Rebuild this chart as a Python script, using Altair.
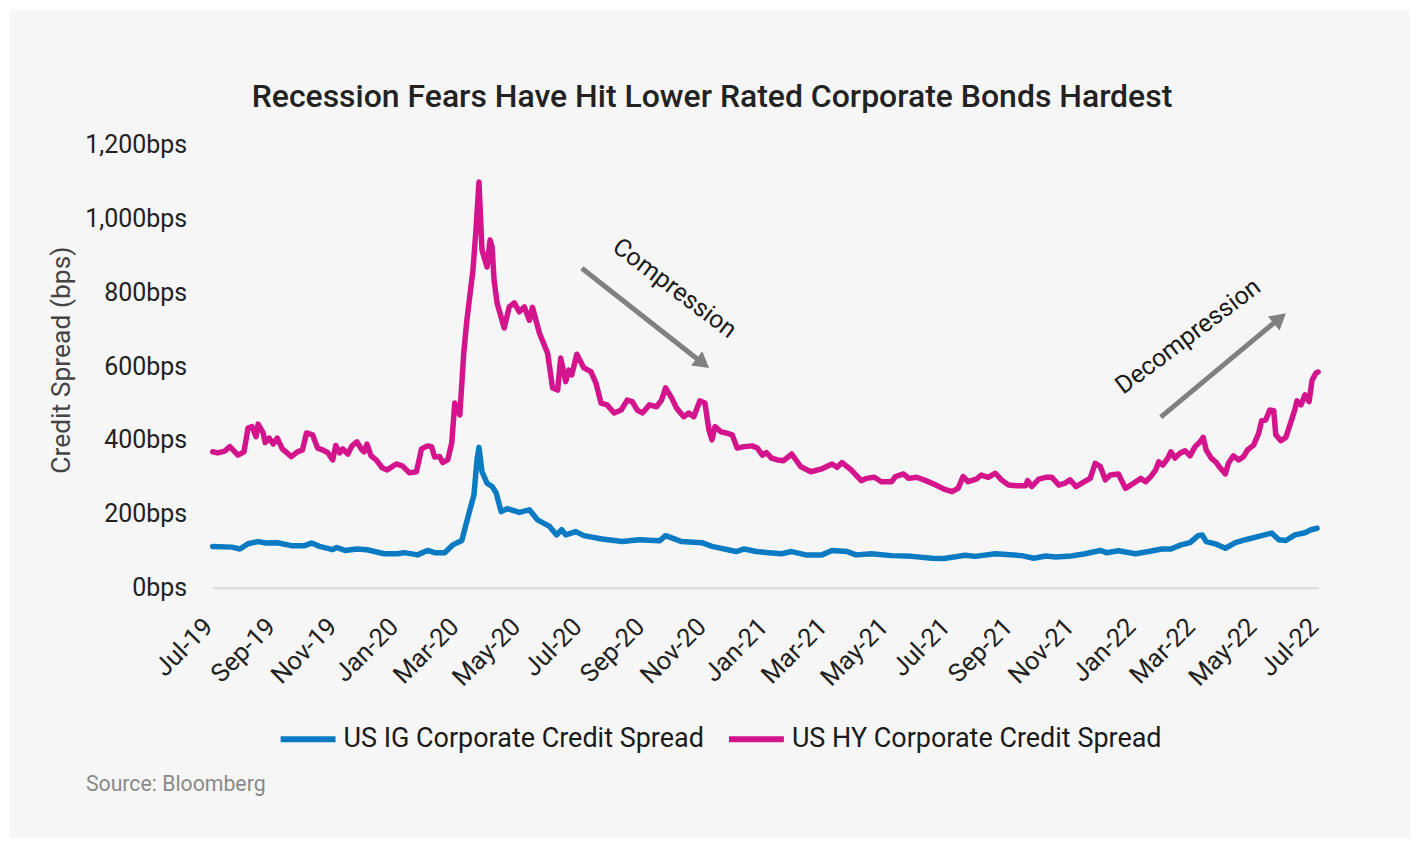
import altair as alt
import pandas as pd

# ---------------- data ----------------
hy_dates = [
    "2019-07-01", "2019-07-06", "2019-07-13", "2019-07-18", "2019-07-26", "2019-08-01", "2019-08-05",
    "2019-08-09", "2019-08-13", "2019-08-15", "2019-08-20", "2019-08-22", "2019-08-26", "2019-08-30",
    "2019-09-03", "2019-09-08", "2019-09-17", "2019-09-23", "2019-09-28", "2019-10-02", "2019-10-08",
    "2019-10-13", "2019-10-18", "2019-10-23", "2019-10-28", "2019-10-31", "2019-11-04", "2019-11-07",
    "2019-11-12", "2019-11-16", "2019-11-21", "2019-11-26", "2019-11-28", "2019-12-01", "2019-12-05",
    "2019-12-10", "2019-12-16", "2019-12-21", "2019-12-30", "2020-01-05", "2020-01-12", "2020-01-19",
    "2020-01-24", "2020-01-30", "2020-02-03", "2020-02-06", "2020-02-11", "2020-02-14", "2020-02-19",
    "2020-02-23", "2020-02-26", "2020-03-02", "2020-03-06", "2020-03-09", "2020-03-13", "2020-03-15",
    "2020-03-18", "2020-03-21", "2020-03-24", "2020-03-29", "2020-04-01", "2020-04-03", "2020-04-05",
    "2020-04-08", "2020-04-15", "2020-04-20", "2020-04-25", "2020-04-30", "2020-05-05", "2020-05-10",
    "2020-05-13", "2020-05-20", "2020-05-28", "2020-06-02", "2020-06-07", "2020-06-10", "2020-06-15",
    "2020-06-18", "2020-06-21", "2020-06-26", "2020-07-03", "2020-07-10", "2020-07-15", "2020-07-20",
    "2020-07-26", "2020-08-02", "2020-08-09", "2020-08-15", "2020-08-20", "2020-08-25", "2020-08-30",
    "2020-09-06", "2020-09-13", "2020-09-18", "2020-09-22", "2020-09-28", "2020-10-03", "2020-10-10",
    "2020-10-15", "2020-10-20", "2020-10-26", "2020-10-31", "2020-11-04", "2020-11-07", "2020-11-10",
    "2020-11-16", "2020-11-21", "2020-11-27", "2020-12-02", "2020-12-09", "2020-12-17", "2020-12-22",
    "2020-12-27", "2020-12-31", "2021-01-05", "2021-01-11", "2021-01-17", "2021-01-25", "2021-02-03",
    "2021-02-13", "2021-02-23", "2021-03-06", "2021-03-11", "2021-03-16", "2021-03-25", "2021-04-04",
    "2021-04-09", "2021-04-17", "2021-04-24", "2021-05-04", "2021-05-08", "2021-05-16", "2021-05-21",
    "2021-05-29", "2021-06-07", "2021-06-17", "2021-06-25", "2021-07-03", "2021-07-09", "2021-07-14",
    "2021-07-19", "2021-07-27", "2021-08-01", "2021-08-08", "2021-08-15", "2021-08-21", "2021-08-28",
    "2021-09-05", "2021-09-14", "2021-09-16", "2021-09-20", "2021-09-27", "2021-10-04", "2021-10-10",
    "2021-10-17", "2021-10-23", "2021-10-28", "2021-11-03", "2021-11-10", "2021-11-17", "2021-11-22",
    "2021-11-27", "2021-12-02", "2021-12-07", "2021-12-15", "2021-12-22", "2021-12-30", "2022-01-06",
    "2022-01-11", "2022-01-16", "2022-01-21", "2022-01-24", "2022-01-28", "2022-02-02", "2022-02-05",
    "2022-02-09", "2022-02-14", "2022-02-19", "2022-02-24", "2022-03-01", "2022-03-06", "2022-03-09",
    "2022-03-12", "2022-03-17", "2022-03-22", "2022-03-26", "2022-03-31", "2022-04-03", "2022-04-08",
    "2022-04-13", "2022-04-18", "2022-04-22", "2022-04-28", "2022-05-03", "2022-05-06", "2022-05-10",
    "2022-05-14", "2022-05-18", "2022-05-20", "2022-05-25", "2022-05-30", "2022-06-04", "2022-06-08",
    "2022-06-10", "2022-06-14", "2022-06-18", "2022-06-22", "2022-06-25", "2022-06-29", "2022-07-01",
]
hy_values = [
    368, 365, 370, 382, 359, 368, 432,
    436, 409, 443, 419, 393, 405, 389,
    405, 376, 355, 368, 373, 419, 414,
    378, 373, 366, 346, 385, 365, 376,
    362, 384, 395, 373, 368, 389, 357,
    346, 325, 319, 335, 330, 311, 314,
    376, 384, 382, 354, 355, 339, 346,
    392, 500, 468, 639, 724, 814, 859,
    968, 1098, 914, 868, 941, 922, 832,
    770, 703, 760, 771, 747, 760, 724,
    759, 689, 635, 541, 535, 622, 558,
    589, 576, 632, 595, 585, 554, 500,
    495, 473, 481, 508, 504, 481, 473,
    495, 490, 508, 541, 514, 486, 463,
    473, 463, 506, 500, 427, 400, 436,
    422, 419, 414, 378, 382, 384, 378,
    359, 366, 351, 346, 344, 362, 328,
    314, 321, 335, 326, 339, 319, 290,
    296, 299, 287, 287, 301, 308, 296,
    299, 290, 278, 267, 260, 269, 301,
    287, 294, 305, 299, 310, 292, 278,
    276, 276, 290, 274, 294, 299, 299,
    278, 283, 292, 274, 285, 296, 337,
    328, 292, 305, 308, 269, 283, 296,
    287, 301, 319, 341, 332, 351, 368,
    351, 364, 371, 357, 382, 395, 407,
    373, 351, 339, 324, 308, 337, 357,
    346, 355, 373, 386, 418, 452, 454,
    481, 479, 414, 398, 407, 449, 483,
    506, 495, 522, 504, 562, 582, 584,
]

ig_dates = [
    "2019-07-01", "2019-07-20", "2019-07-28", "2019-08-05", "2019-08-15", "2019-08-23", "2019-09-03",
    "2019-09-17", "2019-09-30", "2019-10-07", "2019-10-15", "2019-10-28", "2019-11-01", "2019-11-09",
    "2019-11-21", "2019-12-01", "2019-12-18", "2019-12-31", "2020-01-07", "2020-01-20", "2020-01-30",
    "2020-02-06", "2020-02-16", "2020-02-24", "2020-03-04", "2020-03-08", "2020-03-12", "2020-03-16",
    "2020-03-19", "2020-03-21", "2020-03-24", "2020-03-29", "2020-04-03", "2020-04-07", "2020-04-12",
    "2020-04-18", "2020-04-30", "2020-05-10", "2020-05-18", "2020-05-30", "2020-06-06", "2020-06-11",
    "2020-06-15", "2020-06-25", "2020-07-03", "2020-07-21", "2020-08-10", "2020-08-27", "2020-09-16",
    "2020-09-22", "2020-10-08", "2020-10-28", "2020-11-07", "2020-12-01", "2020-12-09", "2020-12-21",
    "2021-01-02", "2021-01-15", "2021-01-25", "2021-02-08", "2021-02-24", "2021-03-06", "2021-03-21",
    "2021-03-30", "2021-04-14", "2021-05-04", "2021-05-24", "2021-06-13", "2021-06-25", "2021-07-16",
    "2021-07-26", "2021-08-15", "2021-09-10", "2021-09-22", "2021-10-04", "2021-10-14", "2021-10-29",
    "2021-11-12", "2021-11-27", "2021-12-03", "2021-12-15", "2022-01-01", "2022-01-14", "2022-01-27",
    "2022-02-05", "2022-02-15", "2022-02-24", "2022-03-04", "2022-03-08", "2022-03-12", "2022-03-21",
    "2022-03-31", "2022-04-10", "2022-04-20", "2022-05-03", "2022-05-16", "2022-05-23", "2022-05-30",
    "2022-06-08", "2022-06-18", "2022-06-24", "2022-06-30",
]
ig_values = [
    112, 110, 105, 119, 125, 121, 122,
    114, 114, 121, 112, 103, 109, 101,
    105, 103, 92, 92, 95, 89, 101,
    95, 95, 116, 128, 170, 211, 251,
    346, 380, 314, 283, 274, 257, 206,
    214, 204, 211, 184, 166, 143, 157,
    143, 152, 141, 132, 125, 130, 127,
    141, 125, 122, 112, 98, 105, 98,
    95, 92, 98, 89, 89, 101, 98,
    89, 92, 87, 85, 80, 79, 88,
    85, 92, 87, 80, 86, 83, 86,
    92, 101, 95, 100, 92, 98, 105,
    105, 116, 122, 141, 143, 125, 119,
    107, 122, 130, 139, 148, 130, 128,
    143, 149, 157, 161,
]

series_names = ["US IG Corporate Credit Spread", "US HY Corporate Credit Spread"]
series_colors = ["#0a7bc2", "#d4148c"]

x_tick_dates = [
    "2019-07-01", "2019-09-01", "2019-11-01", "2020-01-01", "2020-03-01", "2020-05-01", "2020-07-01",
    "2020-09-01", "2020-11-01", "2021-01-01", "2021-03-01", "2021-05-01", "2021-07-01", "2021-09-01",
    "2021-11-01", "2022-01-01", "2022-03-01", "2022-05-01", "2022-07-01",
]
y_ticks = [0, 200, 400, 600, 800, 1000, 1200]

# annotation arrows / labels (in data space)
arrow_start_dates = ["2020-07-01", "2022-01-26"]
arrow_start_values = [865, 462]
arrow_end_dates = ["2020-10-25", "2022-05-21"]
arrow_end_values = [616, 723]
head_dates = ["2020-10-29", "2022-05-24"]
head_values = [608, 729]
head_angles = [38, 320]
ann_texts = ["Compression", "Decompression"]
ann_dates = ["2020-10-01", "2022-02-22"]
ann_values = [811, 681]
ann_angles = [37, 323]

title_text = "Recession Fears Have Hit Lower Rated Corporate Bonds Hardest"
y_title_text = "Credit Spread (bps)"
source_text = "Source: Bloomberg"

# ---------------- build ----------------
FONT = "Roboto"
PLOT_W, PLOT_H = 1107, 444


def dt(s):
    y, m, d = (int(v) for v in s.split("-"))
    return alt.DateTime(year=y, month=m, date=d, utc=True)


df = pd.concat([
    pd.DataFrame({"date": ig_dates, "value": ig_values, "series": series_names[0]}),
    pd.DataFrame({"date": hy_dates, "value": hy_values, "series": series_names[1]}),
], ignore_index=True)

x_scale = alt.Scale(type="utc", domain=[dt(x_tick_dates[0]), dt(x_tick_dates[-1])])
y_scale = alt.Scale(domain=[0, 1200], nice=False)

x_axis = alt.Axis(values=[dt(s) for s in x_tick_dates], format="%b-%y", labelAngle=-45,
                  labelAlign="right", labelBaseline="top", labelOffset=-13,
                  ticks=False, tickSize=0, grid=False, labelPadding=26, zindex=1,
                  domainColor="#d9d9d9", domainWidth=2, labelFontSize=25.5,
                  labelColor="#222222", labelFont=FONT, labelOverlap=False, title=None)
y_axis = alt.Axis(values=y_ticks, labelExpr="format(datum.value, ',') + 'bps'",
                  ticks=False, tickSize=0, grid=False, domain=False, labelPadding=26, zindex=1,
                  labelFontSize=25, labelColor="#222222", labelFont=FONT, title=None)

bg = alt.Chart(pd.DataFrame({"k": [0]})).mark_rect(color="#f6f6f6").encode(
    x=alt.value(-203), x2=alt.value(1199), y=alt.value(-134), y2=alt.value(700)
)

lines = alt.Chart(df).mark_line(strokeWidth=5.5, strokeJoin="round", strokeCap="round").encode(
    x=alt.X("date:T", scale=x_scale, axis=x_axis),
    y=alt.Y("value:Q", scale=y_scale, axis=y_axis),
    color=alt.Color("series:N", scale=alt.Scale(domain=series_names, range=series_colors),
                    sort=series_names,
                    legend=alt.Legend(title=None, orient="none", direction="horizontal",
                                      legendX=65, legendY=565, symbolType="stroke",
                                      symbolStrokeWidth=6, symbolSize=3025, labelFontSize=27,
                                      labelFont=FONT, labelColor="#1a1a1a", labelOffset=5,
                                      columnPadding=13, labelLimit=600, padding=0)),
    order=alt.Order("date:T"),
)

arrows_df = pd.DataFrame({"d1": arrow_start_dates, "v1": arrow_start_values,
                          "d2": arrow_end_dates, "v2": arrow_end_values})
arrows = alt.Chart(arrows_df).mark_rule(color="#808080", strokeWidth=5).encode(
    x=alt.X("d1:T", scale=x_scale, axis=x_axis), y=alt.Y("v1:Q", scale=y_scale, axis=y_axis),
    x2="d2:T", y2="v2:Q",
)

heads_df = pd.DataFrame({"d": head_dates, "v": head_values, "a": head_angles})
heads = alt.Chart(heads_df).mark_point(shape="triangle-right", filled=True, size=330,
                                       color="#808080", opacity=1).encode(
    x=alt.X("d:T", scale=x_scale, axis=x_axis), y=alt.Y("v:Q", scale=y_scale, axis=y_axis),
    angle=alt.Angle("a:Q", scale=None),
)

ann_df = pd.DataFrame({"t": ann_texts, "d": ann_dates, "v": ann_values, "a": ann_angles})
ann = alt.Chart(ann_df).mark_text(font=FONT, fontSize=25, color="#1a1a1a", align="center",
                                  baseline="middle").encode(
    x=alt.X("d:T", scale=x_scale, axis=x_axis), y=alt.Y("v:Q", scale=y_scale, axis=y_axis),
    text="t:N", angle=alt.Angle("a:Q", scale=None),
)

title = alt.Chart(pd.DataFrame({"t": [title_text]})).mark_text(
    font=FONT, fontSize=32, fontWeight=500, color="#222222", align="center", baseline="middle"
).encode(text="t:N", x=alt.value(500), y=alt.value(-47))

ytitle = alt.Chart(pd.DataFrame({"t": [y_title_text]})).mark_text(
    font=FONT, fontSize=26.5, color="#444444", align="center", baseline="middle", angle=270
).encode(text="t:N", x=alt.value(-151), y=alt.value(216))

source = alt.Chart(pd.DataFrame({"t": [source_text]})).mark_text(
    font=FONT, fontSize=21.3, color="#8a8a8a", align="left", baseline="middle"
).encode(text="t:N", x=alt.value(-127), y=alt.value(642))

chart = alt.layer(bg, lines, arrows, heads, ann, title, ytitle, source).properties(
    width=PLOT_W, height=PLOT_H,
    autosize=alt.AutoSizeParams(type="none"),
    padding={"left": 205, "top": 136, "right": 92, "bottom": 250},
).configure(background="#ffffff", font=FONT).configure_view(stroke=None)

chart.save("out.html", embed_options={"renderer": "svg", "actions": False})
